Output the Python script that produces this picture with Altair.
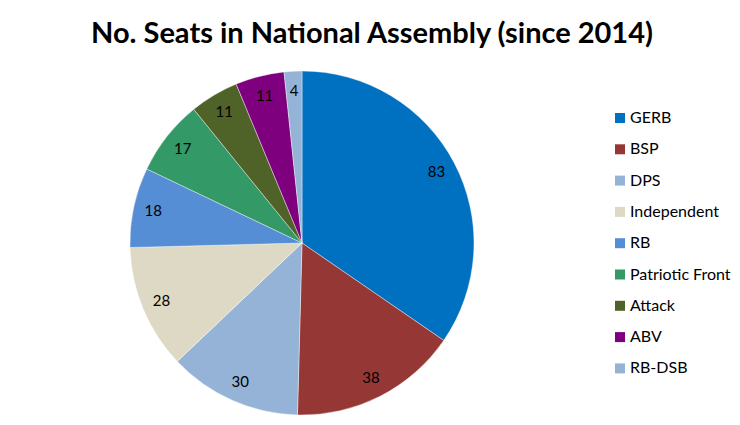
import altair as alt
import pandas as pd

parties = ["GERB", "BSP", "DPS", "Independent", "RB", "Patriotic Front", "Attack", "ABV", "RB-DSB"]
seats = [83, 38, 30, 28, 18, 17, 11, 11, 4]
colors = ["#0070C0", "#953735", "#95B3D7", "#DDD9C4", "#558ED5", "#339966", "#4F6228", "#7F007F", "#95B3D7"]

df = pd.DataFrame({"party": parties, "seats": seats, "order": list(range(len(parties)))})

FONT = "Lato"
CX, CY, R = 294, 188, 172

base = alt.Chart(df).encode(
    theta=alt.Theta("seats:Q", stack=True),
    order=alt.Order("order:Q"),
)

pie = base.mark_arc(outerRadius=R, stroke="#ffffff", strokeWidth=0.4).encode(
    x=alt.value(CX),
    y=alt.value(CY),
    color=alt.Color(
        "party:N",
        scale=alt.Scale(domain=parties, range=colors),
        sort=parties,
        legend=alt.Legend(
            title=None,
            orient="none",
            legendX=604,
            legendY=55,
            symbolType="square",
            symbolSize=100,
            symbolStrokeWidth=0,
            symbolOpacity=1,
            labelFontSize=16,
            labelFont=FONT,
            labelColor="#000000",
            labelOffset=2,
            rowPadding=15.3,
            padding=0,
            labelLimit=200,
        ),
    ),
)

labels = base.mark_text(radius=152, fontSize=15, font=FONT, color="#000000").encode(
    x=alt.value(CX),
    y=alt.value(CY),
    text="seats:Q",
    detail="party:N",
)

chart = (
    alt.layer(pie, labels)
    .properties(
        width=724,
        height=360,
        padding={"top": 12, "left": 0, "right": 0, "bottom": 0},
        title=alt.TitleParams(
            "No. Seats in National Assembly (since 2014)",
            font=FONT,
            fontSize=29,
            fontWeight="bold",
            color="#000000",
            anchor="middle",
            offset=6,
            dx=2,
        ),
    )
    .configure_view(stroke=None)
)

chart.save("out.html", embed_options={"renderer": "svg", "actions": False})
